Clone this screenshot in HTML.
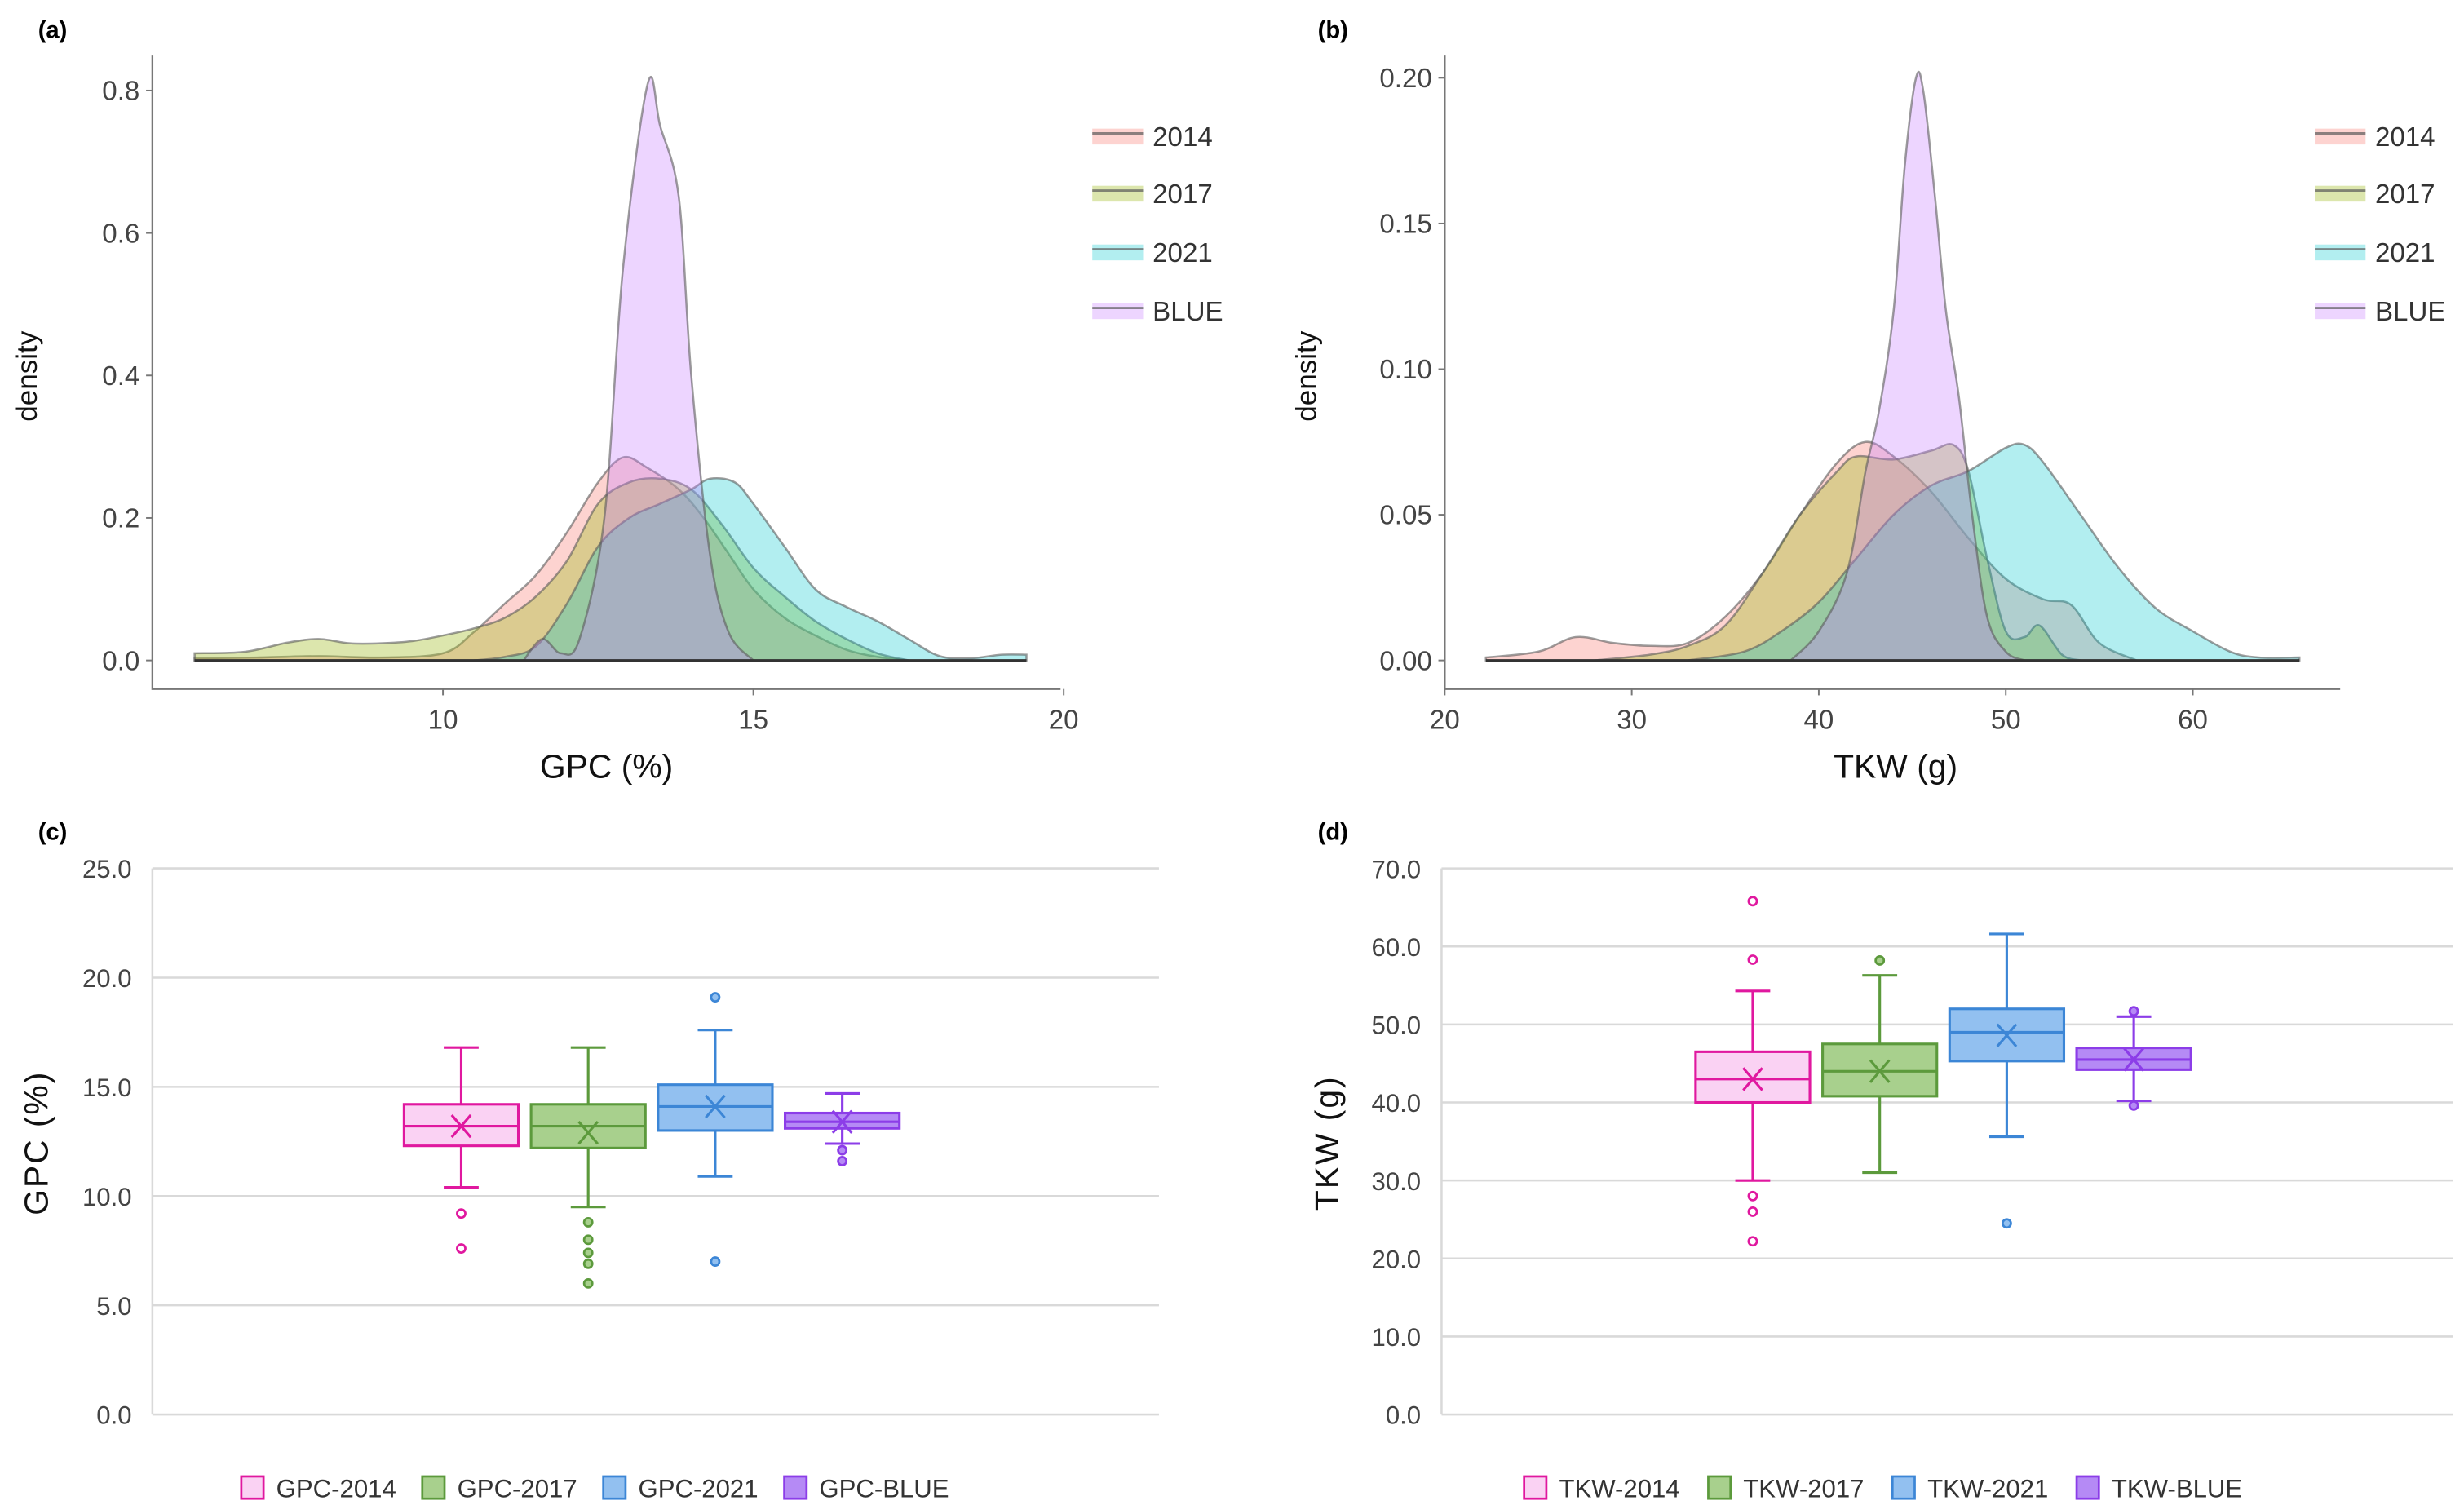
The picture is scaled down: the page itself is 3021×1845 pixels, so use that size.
<!DOCTYPE html>
<html><head><meta charset="utf-8"><style>
html,body{margin:0;padding:0;background:#fff;}
svg{display:block;}
text{font-family:"Liberation Sans Narrow","Liberation Sans",sans-serif;}
</style></head><body>
<svg id="fig" width="3021" height="1845" viewBox="0 0 1552 948" preserveAspectRatio="none" xmlns="http://www.w3.org/2000/svg"></svg>
<script>
// ---------- DATA ----------
const seriesNames = ['2014','2017','2021','BLUE'];
// Panel (a) GPC density
const gpc2014X = [6,7,8,9,10,10.5,11,11.5,12,12.5,12.9,13.3,13.8,14.2,14.6,15,15.5,16,16.5,17,17.5];
const gpc2014Y = [0.003,0.004,0.006,0.004,0.01,0.04,0.08,0.12,0.18,0.25,0.285,0.27,0.24,0.2,0.15,0.1,0.06,0.035,0.015,0.005,0];
const gpc2017X = [6,6.8,7.5,8,8.5,9,9.5,10,10.5,11,11.5,12,12.5,13,13.5,14,14.5,15,15.5,16,16.5,17,17.5];
const gpc2017Y = [0.01,0.012,0.025,0.03,0.024,0.024,0.027,0.035,0.045,0.06,0.09,0.14,0.22,0.25,0.255,0.24,0.19,0.13,0.09,0.055,0.03,0.01,0];
const gpc2021X = [10.5,11,11.5,12,12.5,13,13.5,14,14.3,14.7,15,15.5,16,16.5,17,17.5,18,18.5,19,19.4];
const gpc2021Y = [0,0.005,0.02,0.08,0.16,0.2,0.22,0.24,0.255,0.25,0.22,0.16,0.1,0.075,0.055,0.03,0.006,0.003,0.008,0.008];
const gpcBlueX = [11.3,11.6,11.9,12.2,12.6,12.9,13.3,13.5,13.8,14.0,14.3,14.6,15];
const gpcBlueY = [0,0.03,0.01,0.03,0.2,0.55,0.81,0.75,0.65,0.4,0.15,0.04,0];
const gpcXTicks = [10,15,20];
const gpcYTicks = [0,0.2,0.4,0.6,0.8];
// Panel (b) TKW density
const tkw2014X = [22.2,25,27,29,31,33,35,37,39,41,42.5,44,46,48,50,52,53.5,55,57];
const tkw2014Y = [0.001,0.003,0.008,0.006,0.005,0.006,0.015,0.03,0.05,0.068,0.075,0.07,0.058,0.042,0.028,0.021,0.019,0.006,0];
const tkw2017X = [28,31,33,35,37,39,41,42,44,46,47.2,48,49,50,51,51.8,53,54];
const tkw2017Y = [0,0.002,0.005,0.012,0.03,0.05,0.065,0.07,0.069,0.072,0.074,0.065,0.035,0.01,0.008,0.012,0.002,0];
const tkw2021X = [33,36,38,40,42,44,46,48,50,51,52,54,56,58,60,62,63.5,65.7];
const tkw2021Y = [0,0.003,0.01,0.02,0.035,0.05,0.06,0.065,0.073,0.074,0.068,0.05,0.032,0.018,0.01,0.003,0.001,0.001];
const tkwBlueX = [38.5,40,41.5,42.5,43.2,44,44.6,45.2,45.6,46.2,46.8,47.5,48.2,49,50,51];
const tkwBlueY = [0,0.01,0.03,0.065,0.085,0.12,0.17,0.2,0.195,0.16,0.12,0.09,0.05,0.015,0.003,0];
const tkwXTicks = [20,30,40,50,60];
const tkwYTicks = [0,0.05,0.1,0.15,0.2];
// Panel (c) GPC boxes: [lowWhisker, q1, median, q3, highWhisker, mean]
const gpcBoxStats = [[10.4,12.3,13.2,14.2,16.8,13.2],[9.5,12.2,13.2,14.2,16.8,12.9],[10.9,13.0,14.1,15.1,17.6,14.1],[12.4,13.1,13.4,13.8,14.7,13.4]];
const gpcOutliers = [[9.2,7.6],[8.8,8.0,7.4,6.9,6.0],[19.1,7.0],[12.1,11.6]];
const gpcBoxTicks = [0,5,10,15,20,25];
// Panel (d) TKW boxes
const tkwBoxStats = [[30,40,43,46.5,54.3,43],[31,40.8,44,47.5,56.3,44],[35.6,45.3,49,52,61.6,48.6],[40.2,44.2,45.5,47,51,45.5]];
const tkwOutliers = [[65.8,58.3,28,26,22.2],[58.2],[24.5],[51.7,39.6]];
const tkwBoxTicks = [0,10,20,30,40,50,60,70];

// ---------- STYLE ----------
const densFill = ['rgba(248,118,109,0.32)','rgba(163,190,40,0.38)','rgba(0,200,205,0.3)','rgba(199,124,255,0.32)'];
const boxStroke = ['#e0189f','#5c9a3c','#3c86d6','#8c3de8'];
const boxFill = ['#fad2f3','#a8d08d','#92c0f0','#b58af5'];
const NS='http://www.w3.org/2000/svg';
const svg=document.getElementById('fig');
function el(tag,attrs,parent){const e=document.createElementNS(NS,tag);for(const k in attrs)e.setAttribute(k,attrs[k]);(parent||svg).appendChild(e);return e;}
function txt(s,attrs,parent){const t=el('text',attrs,parent);t.textContent=s;return t;}
function smooth(pts){
  let d='M'+pts[0][0]+','+pts[0][1];
  for(let i=0;i<pts.length-1;i++){
    const p0=pts[Math.max(0,i-1)],p1=pts[i],p2=pts[i+1],p3=pts[Math.min(pts.length-1,i+2)];
    const c1x=p1[0]+(p2[0]-p0[0])/6,c1y=p1[1]+(p2[1]-p0[1])/6,c2x=p2[0]-(p3[0]-p1[0])/6,c2y=p2[1]-(p3[1]-p1[1])/6;
    d+=' C'+c1x+','+c1y+' '+c2x+','+c2y+' '+p2[0]+','+p2[1];
  }
  return d;
}

function densityPanel(o){
  const g=el('g',{});
  
  
  const sx=v=>o.x0+(v-o.xv0)*o.xs, sy=v=>o.y0-v*o.ys;
  const lab=txt(o.panel,{x:o.labX,y:24,'font-size':15,'font-weight':'bold','font-family':'Liberation Sans'},g);
  
  // axes
  const ax=el('path',{d:`M${o.axL},${o.axT}V${o.axB}H${o.axR}`,stroke:'#777',fill:'none','stroke-width':1.2},g);
  
  o.yTicks.forEach(v=>{
    el('line',{x1:o.axL-4,x2:o.axL,y1:sy(v),y2:sy(v),stroke:'#777'},g);
    const t=txt(v.toFixed(o.yDec),{x:o.axL-8,y:sy(v)+6,'text-anchor':'end','font-size':17,fill:'#444'},g);
    
  });
  o.xTicks.forEach(v=>{
    el('line',{x1:sx(v),x2:sx(v),y1:o.axB,y2:o.axB+4,stroke:'#777'},g);
    const t=txt(String(v),{x:sx(v),y:o.axB+25,'text-anchor':'middle','font-size':17,fill:'#444'},g);
    
  });
  o.series.forEach((s,i)=>{
    const pts=s[0].map((x,j)=>[sx(x),sy(s[1][j])]);
    let d=smooth(pts)+` L${sx(s[0][s[0].length-1])},${sy(0)} L${sx(s[0][0])},${sy(0)} Z`;
    const p=el('path',{d:d,fill:densFill[i],stroke:'rgba(90,90,90,0.6)','stroke-width':1.3},g);
    
  });
  el('line',{x1:sx(o.baseMin),x2:sx(o.baseMax),y1:sy(0),y2:sy(0),stroke:'#333','stroke-width':1.5},g);
  const xt=txt(o.xTitle,{x:o.xTitleX,y:490,'text-anchor':'middle','font-size':21,fill:'#111','font-family':'Liberation Sans'},g);
  
  const yt=txt('density',{transform:`translate(${o.labX-2+1},${237}) rotate(-90)`,'text-anchor':'middle','font-size':18,fill:'#111','font-family':'Liberation Sans'},g);
  
  seriesNames.forEach((n,i)=>{
    const y=[86,122,159,196][i];
    const lg=el('g',{},g);
    
    el('rect',{x:o.legX,y:y-5,width:32,height:10,fill:densFill[i]},lg);
    el('line',{x1:o.legX,x2:o.legX+32,y1:y-2,y2:y-2,stroke:'rgba(90,90,90,0.7)','stroke-width':1.5},lg);
    txt(n,{x:o.legX+38,y:y+6,'font-size':17,fill:'#333'},lg);
  });
}

densityPanel({name:'gpc-density-chart',panel:'(a)',labX:24,x0:279,xv0:10,xs:39.1,y0:416,ys:448.75,axL:96,axR:668,axT:35,axB:434,
  yTicks:gpcYTicks,yDec:1,xTicks:gpcXTicks,series:[[gpc2014X,gpc2014Y],[gpc2017X,gpc2017Y],[gpc2021X,gpc2021Y],[gpcBlueX,gpcBlueY]],
  baseMin:6,baseMax:19.4,xTitle:'GPC (%)',xTitleX:382,legX:688});
densityPanel({name:'tkw-density-chart',panel:'(b)',labX:830,x0:910,xv0:20,xs:11.78,y0:416,ys:1835,axL:910,axR:1474,axT:35,axB:434,
  yTicks:tkwYTicks,yDec:2,xTicks:tkwXTicks,series:[[tkw2014X,tkw2014Y],[tkw2017X,tkw2017Y],[tkw2021X,tkw2021Y],[tkwBlueX,tkwBlueY]],
  baseMin:22.2,baseMax:65.7,xTitle:'TKW (g)',xTitleX:1194,legX:1458});

function boxPanel(o){
  const g=el('g',{});
  
  
  const sy=v=>o.y0-v*o.ys;
  const lab=txt(o.panel,{x:o.labX,y:529,'font-size':15,'font-weight':'bold','font-family':'Liberation Sans'},g);
  
  o.ticks.forEach(v=>{
    const gl=el('line',{x1:o.L,x2:o.R,y1:sy(v),y2:sy(v),stroke:'#d9d9d9','stroke-width':1.3},g);
    
    const t=txt(v.toFixed(1),{x:o.L-13,y:sy(v)+6,'text-anchor':'end','font-size':16,fill:'#444'},g);
    
  });
  el('line',{x1:o.L,x2:o.L,y1:sy(o.ticks[o.ticks.length-1]),y2:sy(0),stroke:'#d9d9d9','stroke-width':1.3},g);
  const yt=txt(o.yTitle,{transform:`translate(${o.yTitleX},${720}) rotate(-90)`,'text-anchor':'middle','font-size':21,fill:'#111','font-family':'Liberation Sans','letter-spacing':1},g);
  
  const w=72, step=80, c0=o.center-1.5*step;
  o.stats.forEach((s,i)=>{
    const cx=c0+i*step, bg=el('g',{},g);
    
    const st={stroke:boxStroke[i],'stroke-width':1.6,fill:'none'};
    el('line',Object.assign({x1:cx,x2:cx,y1:sy(s[0]),y2:sy(s[4])},st),bg);
    el('line',Object.assign({x1:cx-11,x2:cx+11,y1:sy(s[0]),y2:sy(s[0])},st),bg);
    el('line',Object.assign({x1:cx-11,x2:cx+11,y1:sy(s[4]),y2:sy(s[4])},st),bg);
    el('rect',{x:cx-w/2,y:sy(s[3]),width:w,height:sy(s[1])-sy(s[3]),fill:boxFill[i],stroke:boxStroke[i],'stroke-width':1.6},bg);
    el('line',Object.assign({x1:cx-w/2,x2:cx+w/2,y1:sy(s[2]),y2:sy(s[2])},st),bg);
    const m=sy(s[5]);
    el('path',Object.assign({d:`M${cx-6},${m-7}L${cx+6},${m+7}M${cx+6},${m-7}L${cx-6},${m+7}`},st),bg);
    o.outs[i].forEach(v=>{
      const c=el('circle',{cx:cx,cy:sy(v),r:2.6,fill:i===0?'#fff':boxFill[i],stroke:boxStroke[i],'stroke-width':1.4},bg);
      
    });
  });
  seriesNames.forEach((n,i)=>{
    const x=o.legXs[i], lg=el('g',{},g);
    
    el('rect',{x:x,y:930,width:14,height:14,fill:boxFill[i],stroke:boxStroke[i],'stroke-width':1.4},lg);
    txt(o.prefix+'-'+n,{x:x+22,y:943,'font-size':16,fill:'#333'},lg);
  });
}
boxPanel({name:'gpc-boxplot-chart',panel:'(c)',labX:24,y0:891,ys:13.76,L:96,R:730,ticks:gpcBoxTicks,stats:gpcBoxStats,outs:gpcOutliers,
  center:410.5,yTitle:'GPC (%)',yTitleX:30,legXs:[152,266,380,494],prefix:'GPC'});
boxPanel({name:'tkw-boxplot-chart',panel:'(d)',labX:830,y0:891,ys:4.914,L:908,R:1545,ticks:tkwBoxTicks,stats:tkwBoxStats,outs:tkwOutliers,
  center:1224,yTitle:'TKW (g)',yTitleX:843,legXs:[960,1076,1192,1308],prefix:'TKW'});
</script>
</body></html>
